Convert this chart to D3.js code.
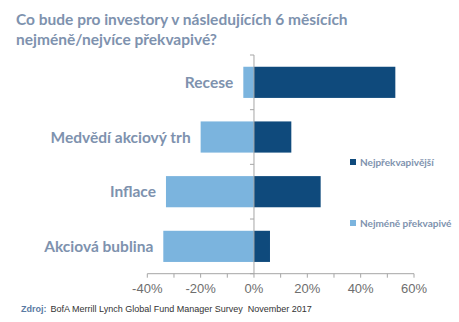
<!DOCTYPE html>
<html><head><meta charset="utf-8">
<script src="https://cdn.jsdelivr.net/npm/d3@7"></script>
<style>body{margin:0;background:#fff}svg{display:block}</style>
</head><body>
<svg id="c" width="459" height="322"></svg>
<script>
const categories = ["Recese", "Medvědí akciový trh", "Inflace", "Akciová bublina"];
const mostSurprising = [53, 14, 25, 6];
const leastSurprising = [-4, -20, -33, -34];
const seriesNames = ["Nejpřekvapivější", "Nejméně překvapivé"];
const xTicks = [-40, -20, 0, 20, 40, 60];
const xMinorTicks = [-40,-30,-20,-10,0,10,20,30,40,50,60];
const titleLines = ["Co bude pro investory v následujících 6 měsících", "nejméně/nejvíce překvapivé?"];
const sourceLabel = "Zdroj:";
const sourceText = "BofA Merrill Lynch Global Fund Manager Survey  November 2017";

const dark = "#0f4a7c", light = "#7bb4de", labelColor = "#7e92ae", axisColor = "#a6a6a6";
const svg = d3.select("#c");

const x = d3.scaleLinear().domain([-40, 60]).range([147.3, 414]);
const y = d3.scaleBand().domain(categories).range([55, 273.7]).paddingInner(0.43).paddingOuter(0.215);

// title
svg.append("g").selectAll("text").data(titleLines).join("text")
  .attr("x", 16).attr("y", (d,i) => 25 + i*20)
  .attr("font-family", "Lato, 'Open Sans', sans-serif").attr("font-weight", "bold")
  .attr("font-size", 15.5).attr("fill", labelColor).text(d => d);

// bars
svg.append("g").selectAll("rect").data(categories).join("rect")
  .attr("x", (d,i) => x(leastSurprising[i])).attr("y", d => y(d))
  .attr("width", (d,i) => x(0) - x(leastSurprising[i])).attr("height", y.bandwidth())
  .attr("fill", light);
svg.append("g").selectAll("rect").data(categories).join("rect")
  .attr("x", x(0)).attr("y", d => y(d))
  .attr("width", (d,i) => x(mostSurprising[i]) - x(0)).attr("height", y.bandwidth())
  .attr("fill", dark);

// category labels
svg.append("g").selectAll("text").data(categories).join("text")
  .attr("x", (d,i) => x(leastSurprising[i]) - 10).attr("y", d => y(d) + y.bandwidth()/2)
  .attr("dy", "0.36em").attr("text-anchor", "end")
  .attr("font-family", "Lato, 'Open Sans', sans-serif").attr("font-weight", "bold")
  .attr("font-size", 15.5).attr("fill", labelColor).text(d => d);

// x axis
const xAxis = svg.append("g").attr("transform", "translate(0,273.7)");
xAxis.append("line").attr("x1", x(-40)).attr("x2", x(60)).attr("stroke", axisColor);
xAxis.selectAll("line.t").data(xMinorTicks).join("line").attr("class","t")
  .attr("x1", d => x(d)).attr("x2", d => x(d)).attr("y1", 0).attr("y2", 4).attr("stroke", axisColor);
xAxis.selectAll("text").data(xTicks).join("text")
  .attr("x", d => x(d)).attr("y", 19).attr("text-anchor", "middle")
  .attr("font-family", "'Liberation Sans', Arial, sans-serif").attr("font-size", 13)
  .attr("fill", "#6e6e6e").text(d => d + "%");

// y axis
const yAxisG = svg.append("g");
yAxisG.append("line").attr("x1", x(0)).attr("x2", x(0)).attr("y1", 55).attr("y2", 273.7).attr("stroke", axisColor);
const bounds = categories.map(c => y(c) - y.step()*y.paddingInner()/2);
bounds[0] = 55;
bounds.push(273.7);
yAxisG.selectAll("line.t").data(bounds).join("line").attr("class","t")
  .attr("x1", x(0) - 4).attr("x2", x(0)).attr("y1", d => d).attr("y2", d => d).attr("stroke", axisColor);

// legend
const legY = [162, 223];
const legColors = [dark, light];
const leg = svg.append("g").selectAll("g").data(seriesNames).join("g")
  .attr("transform", (d,i) => `translate(350,${legY[i]})`);
leg.append("rect").attr("x", 0).attr("y", -3).attr("width", 6).attr("height", 6).attr("fill", (d,i) => legColors[i]);
leg.append("text").attr("x", 10).attr("y", 0).attr("dy", "0.35em")
  .attr("font-family", "Lato, 'Open Sans', sans-serif").attr("font-weight", "bold")
  .attr("font-size", 10).attr("fill", labelColor).text(d => d);

// source
const src = svg.append("text").attr("x", 21).attr("y", 312).style("white-space", "pre")
  .attr("font-family", "'Liberation Sans', Arial, sans-serif").attr("font-size", 9);
src.append("tspan").attr("font-weight", "bold").attr("fill", "#5a7aa3").text(sourceLabel);
src.append("tspan").attr("dx", 4).attr("fill", "#333").text(sourceText);
</script>
</body></html>
